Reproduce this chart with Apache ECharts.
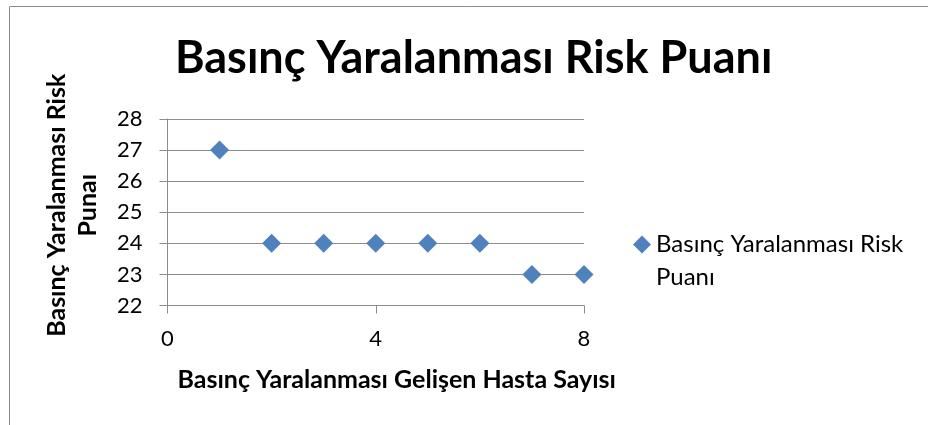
<!DOCTYPE html>
<html>

<head>
    <meta charset="utf-8">
    <title>Basınç Yaralanması Risk Puanı</title>
    <script src="https://cdn.jsdelivr.net/npm/echarts@6/dist/echarts.min.js"></script>
    <style>
        html, body { margin: 0; padding: 0; background: #fff; }
        #main { width: 928px; height: 425px; }
    </style>
</head>

<body>
    <div id="main"></div>
    <script>
        // veriler
        var hastaSayisi = [1, 2, 3, 4, 5, 6, 7, 8];
        var riskPuani = [27, 24, 24, 24, 24, 24, 23, 23];
        var seriAdi = 'Basınç Yaralanması Risk Puanı';

        var points = hastaSayisi.map(function (x, i) { return [x, riskPuani[i]]; });
        var font = 'Lato, "Open Sans", sans-serif';
        var gri = '#8c8c8c';

        var myChart = echarts.init(document.getElementById('main'));
        var option = {
            backgroundColor: '#fff',
            animation: false,
            title: {
                text: 'Basınç Yaralanması Risk Puanı',
                left: 170,
                top: 31,
                textStyle: { fontFamily: font, fontSize: 45, fontWeight: 'bold', color: '#000' }
            },
            graphic: [{
                type: 'rect',
                shape: { x: 9.5, y: 6.5, width: 940, height: 440 },
                style: { fill: 'none', stroke: gri, lineWidth: 1 }
            }],
            legend: {
                left: 628,
                top: 190,
                itemWidth: 18,
                itemHeight: 18,
                itemGap: 5,
                data: [{ name: seriAdi, icon: 'diamond' }],
                // ilk satır simgeyle hizalı olsun diye başa boş satır
                formatter: function () { return '\nBasınç Yaralanması Risk\nPuanı'; },
                textStyle: { fontFamily: font, fontSize: 24, color: '#000', lineHeight: 33 }
            },
            grid: { left: 167.5, right: 344, top: 119, bottom: 119.5 },
            xAxis: {
                type: 'value',
                min: 0, max: 8, interval: 4,
                name: 'Basınç Yaralanması Gelişen Hasta Sayısı',
                nameLocation: 'middle',
                nameGap: 62,
                nameTextStyle: { fontFamily: font, fontSize: 25, fontWeight: 'bold', color: '#000', padding: [0, 0, 0, 42] },
                axisLine: { onZero: false, lineStyle: { color: gri } },
                axisTick: { show: true, length: 8, lineStyle: { color: gri } },
                axisLabel: { margin: 22, fontFamily: font, fontSize: 22, color: '#000' },
                splitLine: { show: false }
            },
            yAxis: {
                type: 'value',
                min: 22, max: 28, interval: 1,
                name: 'Basınç Yaralanması Risk\nPunaı',
                nameLocation: 'middle',
                nameRotate: 90,
                nameGap: 64,
                nameTextStyle: { fontFamily: font, fontSize: 25, fontWeight: 'bold', color: '#000', lineHeight: 31, padding: [0, 0, 0, 14] },
                axisLine: { show: true, lineStyle: { color: gri } },
                axisTick: { show: true, length: 8, lineStyle: { color: gri } },
                axisLabel: { margin: 25, fontFamily: font, fontSize: 22, color: '#000' },
                splitLine: { show: true, lineStyle: { color: gri } }
            },
            series: [{
                name: seriAdi,
                type: 'scatter',
                symbol: 'diamond',
                symbolSize: 19,
                itemStyle: { color: '#4f81bd', opacity: 1 },
                data: points
            }]
        };
        myChart.setOption(option);
    </script>
</body>

</html>
